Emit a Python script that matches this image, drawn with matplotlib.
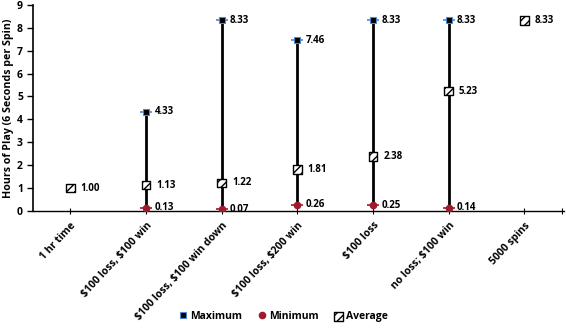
import numpy as np
import matplotlib.pyplot as plt
from matplotlib.transforms import ScaledTranslation

categories = ['1 hr time', '$100 loss, $100 win', '$100 loss, $100 win down',
              '$100 loss, $200 win', '$100 loss', 'no loss; $100 win', '5000 spins']
maximum = [np.nan, 4.33, 8.33, 7.46, 8.33, 8.33, np.nan]
minimum = [np.nan, 0.13, 0.07, 0.26, 0.25, 0.14, np.nan]
average = [1.00, 1.13, 1.22, 1.81, 2.38, 5.23, 8.33]

plt.rcParams['font.family'] = ['Open Sans', 'DejaVu Sans']
plt.rcParams['font.weight'] = 'bold'
plt.rcParams['text.parse_math'] = False
plt.rcParams['hatch.linewidth'] = 1.0

fig = plt.figure(figsize=(5.66, 3.28), dpi=100)
ax = fig.add_axes([0.059, 0.357, 0.938, 0.628])

x = np.arange(len(categories))
blue = '#4f86d6'
red = '#9e1b2e'

# range lines
for i in x:
    if not np.isnan(maximum[i]):
        ax.plot([i, i], [minimum[i], maximum[i]], color='black', lw=2, zorder=1)

ax.plot(x, maximum, ls='none', marker='_', ms=9, mew=1.2, color=blue, zorder=2)
ax.plot(x, maximum, ls='none', marker='s', ms=4.5, mfc='black', mec=blue, mew=0.8,
        zorder=3, label='Maximum')
ax.plot(x, minimum, ls='none', marker='_', ms=9, mew=1.2, color=red, zorder=2)
ax.plot(x, minimum, ls='none', marker='o', ms=4.5, mfc=red, mec=red, zorder=3,
        label='Minimum')
ax.scatter(x, average, marker='s', s=38, facecolor='white', edgecolor='black',
           hatch='////', lw=1.0, zorder=4, label='Average')

for i in x:
    if not np.isnan(maximum[i]):
        ax.annotate(f'{maximum[i]:.2f}', (i, maximum[i]), xytext=(6, 0),
                    textcoords='offset points', va='center', fontsize=7)
        ax.annotate(f'{minimum[i]:.2f}', (i, minimum[i]), xytext=(6, 0),
                    textcoords='offset points', va='center', fontsize=7)
    ax.annotate(f'{average[i]:.2f}', (i, average[i]), xytext=(7.5, 0),
                textcoords='offset points', va='center', fontsize=7)

ax.set_xlim(-0.49, 6.53)
ax.set_ylim(0, 9)
ax.set_yticks(range(10))
ax.set_xticks(x)
ax.set_xticks([6.5], minor=True)
ax.set_xticklabels(categories, rotation=47, ha='right', rotation_mode='anchor',
                   fontsize=7.5)
# nudge rotated labels like the original (right and a bit down)
shift = ScaledTranslation(7 / 100, -2 / 100, fig.dpi_scale_trans)
for lab in ax.get_xticklabels():
    lab.set_transform(lab.get_transform() + shift)
ax.tick_params(axis='y', labelsize=7.5, direction='out', length=4, width=1)
ax.tick_params(axis='x', which='both', direction='inout', length=5, width=0.8,
               pad=4)
for s in ['top', 'right']:
    ax.spines[s].set_visible(False)
ax.spines['left'].set_linewidth(1.2)
ax.spines['bottom'].set_linewidth(1.0)
ax.set_ylabel('Hours of Play (6 Seconds per Spin)', fontsize=7.7, fontweight='bold',
              labelpad=2)

handles, labels = ax.get_legend_handles_labels()
fig.legend(handles, labels, loc='center', bbox_to_anchor=(0.5, 0.035), ncol=3,
           frameon=False, fontsize=7.5, handlelength=0.8, handletextpad=0.3,
           columnspacing=1.5, markerscale=1.0)

fig.savefig('out.png', dpi=100)
